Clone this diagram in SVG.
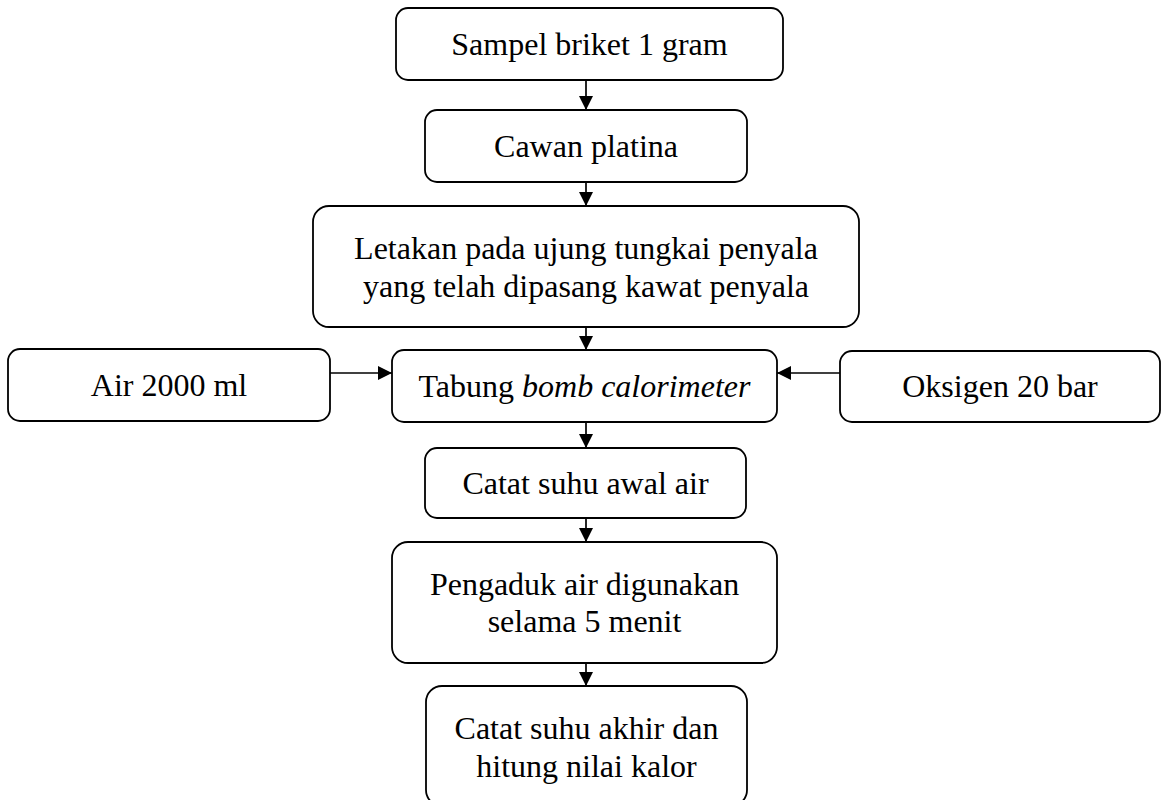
<svg xmlns="http://www.w3.org/2000/svg" width="1162" height="800" viewBox="0 0 1162 800">
<defs>
<marker id="ah" markerUnits="userSpaceOnUse" markerWidth="15" markerHeight="15" refX="14" refY="7" orient="auto">
<path d="M0,0 L14,7 L0,14 Z" fill="#000"/>
</marker>
<style>
.box{fill:#fff;stroke:#000;stroke-width:1.8}
.t{font-family:"Liberation Serif","Times New Roman",serif;font-size:32px;fill:#000;text-anchor:middle}
.c{stroke:#000;stroke-width:1.7;fill:none;marker-end:url(#ah)}
</style>
</defs>
<rect width="1162" height="800" fill="#fff"/>
<g id="connectors">
<line class="c" x1="586" y1="80" x2="586" y2="110"/>
<line class="c" x1="586" y1="182" x2="586" y2="206"/>
<line class="c" x1="586" y1="327" x2="586" y2="350"/>
<line class="c" x1="330" y1="373" x2="392" y2="373"/>
<line class="c" x1="840" y1="373" x2="777" y2="373"/>
<line class="c" x1="586" y1="422" x2="586" y2="448"/>
<line class="c" x1="586" y1="518" x2="586" y2="542"/>
<line class="c" x1="586" y1="663" x2="586" y2="686"/>
</g>
<g id="n1"><rect class="box" x="396" y="8" width="387" height="72" rx="12"/><text class="t" x="589.5" y="55">Sampel briket 1 gram</text></g>
<g id="n2"><rect class="box" x="425" y="110" width="322" height="72" rx="12"/><text class="t" x="586" y="157">Cawan platina</text></g>
<g id="n3"><rect class="box" x="313" y="206" width="546" height="121" rx="16"/><text class="t" x="586" y="259">Letakan pada ujung tungkai penyala</text><text class="t" x="586" y="297">yang telah dipasang kawat penyala</text></g>
<g id="n4"><rect class="box" x="8" y="349" width="322" height="72" rx="12"/><text class="t" x="169" y="396">Air 2000 ml</text></g>
<g id="n5"><rect class="box" x="392" y="350" width="385" height="72" rx="12"/><text class="t" x="584.5" y="397">Tabung <tspan font-style="italic">bomb calorimeter</tspan></text></g>
<g id="n6"><rect class="box" x="840" y="351" width="320" height="71" rx="12"/><text class="t" x="1000" y="397">Oksigen 20 bar</text></g>
<g id="n7"><rect class="box" x="425" y="448" width="321" height="70" rx="12"/><text class="t" x="585.5" y="494">Catat suhu awal air</text></g>
<g id="n8"><rect class="box" x="392" y="542" width="385" height="121" rx="16"/><text class="t" x="584.5" y="595">Pengaduk air digunakan</text><text class="t" x="584.5" y="632">selama 5 menit</text></g>
<g id="n9"><rect class="box" x="426" y="686" width="321" height="120" rx="16"/><text class="t" x="586.5" y="739">Catat suhu akhir dan</text><text class="t" x="586.5" y="777">hitung nilai kalor</text></g>
</svg>
